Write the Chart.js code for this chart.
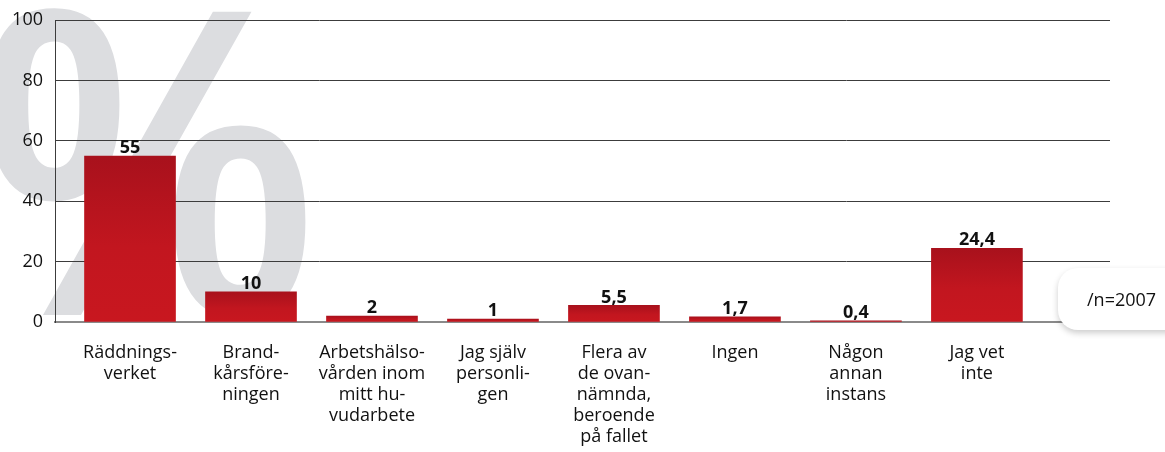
<!DOCTYPE html>
<html>
<head>
<meta charset="utf-8">
<script src="https://cdn.jsdelivr.net/npm/chart.js@4/dist/chart.umd.min.js"></script>
<style>
  html, body { margin:0; padding:0; background:#fff; }
  #wrap { position:relative; width:1165px; height:452px; overflow:hidden; }
  #chart { position:absolute; left:0; top:0; }
  #nbox { position:absolute; left:1058px; top:268px; width:140px; height:62px; background:#fff; border-radius:20px;
          box-shadow:0 3px 6px rgba(0,0,0,.2); font:18px 'Open Sans', sans-serif; color:#111; line-height:62px; padding-left:29px; box-sizing:border-box; }
</style>
</head>
<body>
<div id="wrap">
  <canvas id="chart" width="1165" height="452"></canvas>
  <div id="nbox">/n=2007</div>
</div>
<script>
/* Swedish survey bar chart */

const CATEGORIES = [
  ['Räddnings-', 'verket'],
  ['Brand-', 'kårsföre-', 'ningen'],
  ['Arbetshälso-', 'vården inom', 'mitt hu-', 'vudarbete'],
  ['Jag själv', 'personli-', 'gen'],
  ['Flera av', 'de ovan-', 'nämnda,', 'beroende', 'på fallet'],
  ['Ingen'],
  ['Någon', 'annan', 'instans'],
  ['Jag vet', 'inte'],
];
const VALUES = [55, 10, 2, 1, 5.5, 1.7, 0.4, 24.4];
const Y_TICKS = [0, 20, 40, 60, 80, 100];

const FONT = "'Open Sans', sans-serif";

function barGradient(ctx) {
  const chart = ctx.chart;
  const { chartArea, scales } = chart;
  if (!chartArea) return '#c0151e';
  const v = ctx.raw ? ctx.raw.y : 0;
  const top = scales.y.getPixelForValue(v);
  const bot = scales.y.getPixelForValue(0);
  const g = chart.ctx.createLinearGradient(0, top, 0, bot);
  g.addColorStop(0, '#a8111c');
  g.addColorStop(0.55, '#c2161f');
  g.addColorStop(1, '#c8171f');
  return g;
}

// big grey "%" behind the plot, fitted into its box
const watermark = {
  id: 'watermark',
  beforeDraw(chart) {
    const ctx = chart.ctx;
    const box = { left: -15, top: 5, right: 310, bottom: 322 };
    ctx.save();
    ctx.font = "bold 400px 'Liberation Sans', sans-serif";
    ctx.textAlign = 'left';
    ctx.textBaseline = 'alphabetic';
    const m = ctx.measureText('%');
    const w = m.actualBoundingBoxLeft + m.actualBoundingBoxRight;
    const h = m.actualBoundingBoxAscent + m.actualBoundingBoxDescent;
    const sx = (box.right - box.left) / w, sy = (box.bottom - box.top) / h;
    ctx.translate(box.left + sx * m.actualBoundingBoxLeft, box.top + sy * m.actualBoundingBoxAscent);
    ctx.scale(sx, sy);
    ctx.fillStyle = '#dcdde0';
    ctx.fillText('%', 0, 0);
    ctx.restore();
  }
};

const valueLabels = {
  id: 'valueLabels',
  afterDatasetsDraw(chart) {
    const ctx = chart.ctx;
    const meta = chart.getDatasetMeta(0);
    ctx.save();
    ctx.font = 'bold 18px ' + FONT;
    ctx.fillStyle = '#111';
    ctx.textAlign = 'center';
    ctx.textBaseline = 'bottom';
    meta.data.forEach((bar, i) => {
      ctx.fillText(String(VALUES[i]).replace('.', ','), bar.x, bar.y + 1);
    });
    ctx.restore();
  }
};

new Chart(document.getElementById('chart'), {
  type: 'bar',
  data: {
    datasets: [{
      data: VALUES.map((v, i) => ({ x: i, y: v })),
      backgroundColor: barGradient,
      borderWidth: 0,
      barThickness: 91,
    }]
  },
  options: {
    responsive: false,
    animation: false,
    layout: { padding: { top: 20, right: 55, left: 0, bottom: 0 } },
    plugins: { legend: { display: false }, tooltip: { enabled: false } },
    scales: {
      x: {
        type: 'linear',
        offset: false,
        min: -0.62, max: 8.1,
        afterFit: s => { s.height = 130; },
        afterBuildTicks: s => { s.ticks = CATEGORIES.map((c, i) => ({ value: i })); },
        grid: { display: false },
        border: { display: true, color: '#8a8a8a', width: 2 },
        ticks: {
          autoSkip: false, maxRotation: 0, padding: 12,
          color: '#111', font: { family: FONT, size: 18, lineHeight: 1.17 },
          callback: v => CATEGORIES[v] || '',
        },
      },
      y: {
        min: 0, max: 100,
        afterFit: s => { s.width = 55; },
        afterBuildTicks: s => { s.ticks = Y_TICKS.map(v => ({ value: v })); },
        grid: { color: '#3c3c3c', lineWidth: 1, drawTicks: false },
        border: { display: true, color: '#3c3c3c', width: 1 },
        ticks: { color: '#111', padding: 12, font: { family: FONT, size: 18, lineHeight: 0.9 } },
      }
    }
  },
  plugins: [watermark, valueLabels]
});
</script>
</body>
</html>
